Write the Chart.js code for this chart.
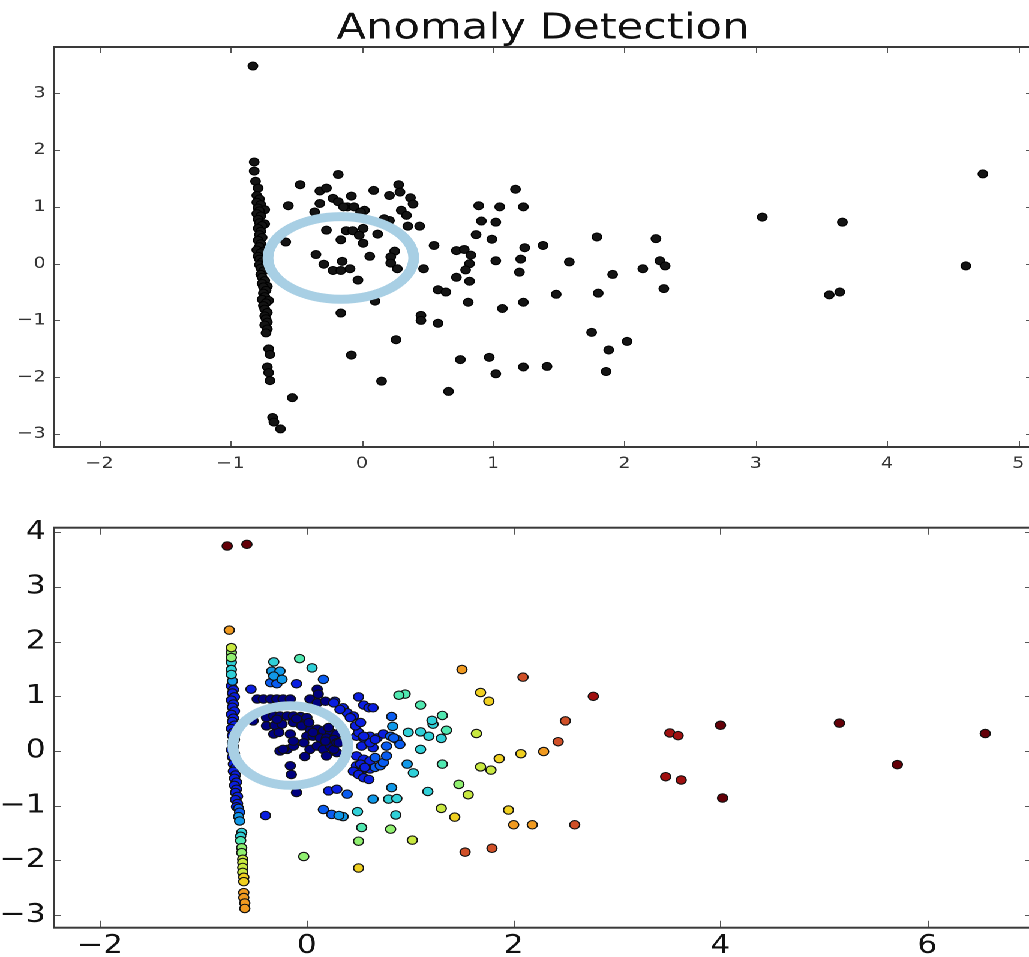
<!DOCTYPE html>
<html>
<head>
<meta charset="utf-8">
<script src="https://cdn.jsdelivr.net/npm/chart.js@4.4.1/dist/chart.umd.min.js"></script>
<style>
  html, body { margin: 0; padding: 0; background: #fff; overflow: hidden; width: 1029px; height: 957px; }
  #wrap { position: absolute; left: 0; top: 0; width: 864px; height: 957px; transform: scaleX(1.2); transform-origin: 0 0; }
  #c1 { position: absolute; left: 0; top: 0; }
  #c2 { position: absolute; left: 0; top: 490px; }
</style>
</head>
<body>
<div id="wrap">
  <canvas id="c1" width="864" height="490"></canvas>
  <canvas id="c2" width="864" height="467"></canvas>
</div>
<script>
// ---------------- DATA ----------------
const chartTitle = 'Anomaly Detection';

// top panel tick labels
const topXTicks = [-2, -1, 0, 1, 2, 3, 4, 5];
const topYTicks = [-3, -2, -1, 0, 1, 2, 3];
// bottom panel tick labels
const botXTicks = [-2, 0, 2, 4, 6];
const botYTicks = [-3, -2, -1, 0, 1, 2, 3, 4];

// highlighted region (same in both panels, data units)
const ellipseCenter = [-0.16, 0.10];
const ellipseRadii = [0.555, 0.727];

// top panel: vertical strip of points
const topStrip = [
  [-0.83,3.48],[-0.82,1.79],[-0.82,1.63],[-0.81,1.45],[-0.79,1.33],[-0.80,1.20],[-0.78,1.14],[-0.80,1.08],
  [-0.77,1.04],[-0.79,0.98],[-0.74,0.95],[-0.78,0.93],[-0.80,0.88],[-0.77,0.84],[-0.79,0.78],[-0.78,0.72],
  [-0.74,0.70],[-0.76,0.67],[-0.79,0.62],[-0.77,0.57],[-0.78,0.51],[-0.76,0.46],[-0.79,0.41],[-0.77,0.35],
  [-0.78,0.30],[-0.80,0.24],[-0.75,0.22],[-0.77,0.19],[-0.79,0.13],[-0.78,0.08],[-0.76,0.03],[-0.78,-0.02],
  [-0.73,-0.02],[-0.77,-0.08],[-0.75,-0.13],[-0.77,-0.19],[-0.76,-0.24],[-0.74,-0.30],[-0.76,-0.35],
  [-0.72,-0.40],[-0.75,-0.41],[-0.73,-0.47],[-0.75,-0.52],[-0.74,-0.58],[-0.76,-0.63],[-0.71,-0.65],
  [-0.73,-0.69],[-0.75,-0.74],[-0.74,-0.80],[-0.72,-0.86],[-0.74,-0.92],[-0.73,-0.97],[-0.72,-1.03],
  [-0.74,-1.08],[-0.72,-1.15],[-0.73,-1.22],[-0.71,-1.50],[-0.70,-1.60],[-0.72,-1.82],[-0.71,-1.92],
  [-0.70,-2.06],[-0.68,-2.71],[-0.67,-2.79],[-0.62,-2.91]
];
// top panel: scattered points
const topScatter = [
  [-0.18,1.57],[-0.47,1.39],[-0.32,1.28],[-0.27,1.33],[-0.56,1.02],[-0.32,1.06],[-0.22,1.15],[-0.18,1.09],
  [-0.08,1.19],[0.09,1.29],[0.21,1.20],[0.28,1.39],[0.29,1.26],[0.37,1.16],[0.39,1.05],[-0.11,1.00],
  [-0.06,1.00],[0.02,0.94],[-0.14,1.00],[-0.01,0.91],[-0.36,0.91],[0.30,0.94],[0.34,0.85],[0.21,0.76],
  [0.17,0.79],[0.35,0.66],[0.44,0.66],[-0.27,0.59],[-0.12,0.58],[-0.07,0.58],[0.01,0.62],[-0.16,0.42],
  [-0.02,0.50],[0.12,0.52],[0.01,0.36],[-0.58,0.38],[-0.35,0.16],[0.06,0.13],[0.25,0.22],[0.22,0.12],
  [-0.29,-0.01],[-0.15,0.04],[-0.22,-0.12],[-0.16,-0.12],[-0.09,-0.09],[0.22,0.01],[0.27,-0.09],
  [-0.03,-0.29],[0.47,-0.09],[0.55,0.32],[0.10,-0.66],[-0.16,-0.87],[0.45,-0.91],[0.45,-1.00],
  [0.26,-1.34],[-0.08,-1.61],[0.15,-2.07],[-0.53,-2.36],[0.58,-1.05],[0.58,-0.46],[0.64,-0.50],
  [1.17,1.31],[0.89,1.02],[1.05,1.00],[1.23,1.00],[0.91,0.75],[1.02,0.73],[0.87,0.51],[0.99,0.43],
  [0.72,0.23],[0.78,0.25],[0.83,0.15],[0.82,0.00],[0.79,-0.11],[0.72,-0.24],[0.82,-0.31],[1.24,0.28],
  [1.38,0.32],[1.02,0.05],[1.21,0.08],[1.20,-0.15],[1.58,0.03],[1.79,0.47],[1.91,-0.19],[2.14,-0.09],
  [2.24,0.44],[0.81,-0.68],[1.07,-0.79],[1.23,-0.68],[1.48,-0.54],[1.80,-0.52],[1.75,-1.21],[2.02,-1.37],
  [1.88,-1.52],[1.86,-1.90],[0.75,-1.69],[0.97,-1.65],[1.02,-1.94],[1.23,-1.82],[1.41,-1.81],[0.66,-2.25],
  [3.05,0.82],[3.66,0.73],[2.27,0.05],[2.31,-0.04],[2.30,-0.44],[4.60,-0.04],[3.56,-0.55],[3.64,-0.50],
  [4.73,1.58]
];

// bottom panel: points grouped by colour band (low score -> high score)
const bandNavy = [
  [-0.39,0.61],[-0.32,0.64],[-0.26,0.64],[-0.19,0.64],[-0.13,0.64],[-0.06,0.63],[0.00,0.61],[-0.39,0.46],
  [-0.31,0.47],[-0.24,0.49],[-0.13,0.52],[-0.03,0.49],[0.03,0.40],[0.10,0.40],[0.16,0.37],[0.23,0.34],
  [0.29,0.31],[-0.32,0.31],[-0.16,0.31],[0.00,0.27],[0.06,0.27],[0.13,0.24],[0.19,0.24],[0.26,0.21],
  [-0.26,0.00],[-0.19,0.03],[-0.13,0.09],[-0.03,0.15],[0.03,0.03],[0.10,0.09],[0.16,0.03],[0.23,0.09],
  [0.29,-0.03],[0.19,-0.09],[-0.02,-0.10],[-0.16,-0.27],[-0.15,-0.43],[-0.10,-0.76],[-0.52,0.55],
  [-0.48,0.95],[-0.42,0.95],[-0.35,0.95],[-0.29,0.95],[-0.23,0.95],[-0.16,0.95],[0.03,0.95],[0.10,0.88],
  [0.18,0.91],[0.10,1.13],[0.11,1.04],[-0.27,0.34],[-0.13,0.18],[-0.23,0.03],[0.18,0.18],[0.26,0.03],
  [0.29,0.15],[0.06,0.34],[-0.05,0.46],[0.02,0.52],[-0.29,0.58],[-0.10,0.59],[0.21,0.43],[0.31,0.15]
];
const bandBlue = [
  [-0.54,1.13],[-0.10,1.23],[0.27,0.91],[0.35,0.79],[0.39,0.70],[0.45,0.64],[0.50,0.99],[0.55,0.84],
  [0.60,0.79],[0.64,0.79],[0.48,0.27],[0.55,0.24],[0.61,0.27],[0.68,0.24],[0.74,0.31],[0.53,0.09],
  [0.64,0.06],[0.48,-0.09],[0.55,-0.15],[0.61,-0.18],[0.48,-0.27],[0.55,-0.33],[0.61,-0.33],[0.52,-0.24],
  [0.56,-0.30],[0.45,-0.37],[0.50,-0.43],[0.55,-0.49],[0.60,-0.52],[0.50,0.34],[0.55,0.27],[0.61,0.15],
  [0.66,0.21],[0.42,0.61],[0.47,0.46],[0.52,0.52],[0.26,0.88],[0.32,0.76],[0.21,-0.73],[0.29,-0.70],
  [-0.40,-1.18],
  [-0.73,1.19],[-0.71,1.12],[-0.72,1.06],[-0.70,0.99],[-0.73,0.93],[-0.71,0.86],[-0.72,0.80],[-0.70,0.73],
  [-0.73,0.67],[-0.71,0.60],[-0.72,0.54],[-0.70,0.47],[-0.73,0.41],[-0.71,0.34],[-0.72,0.28],[-0.70,0.21],
  [-0.72,0.15],[-0.71,0.08],[-0.73,0.02],[-0.70,-0.05],[-0.72,-0.11],[-0.70,-0.18],[-0.71,-0.24],
  [-0.69,-0.31],[-0.71,-0.37],[-0.69,-0.44],[-0.70,-0.50],[-0.68,-0.57],[-0.70,-0.63],[-0.68,-0.70],
  [-0.69,-0.76],[-0.67,-0.83],[-0.69,-0.89],[-0.67,-0.96],[-0.68,-1.02]
];
const bandMidBlue = [
  [-0.35,1.25],[-0.29,1.23],[0.16,1.31],[0.66,-0.30],[0.71,-0.27],[0.74,-0.21],[0.66,-0.12],[0.77,-0.09],
  [0.77,0.09],[0.81,0.27],[0.87,0.21],[0.90,0.12],[0.84,0.24],[0.39,-0.79],[0.16,-1.07],[0.24,-1.16],
  [0.82,0.63],[-0.66,-1.05],[-0.65,-1.12]
];
const bandAzure = [
  [-0.34,1.46],[-0.26,1.46],[-0.32,1.37],[-0.24,1.31],[0.35,-1.20],[0.31,-1.18],[0.82,-0.67],[0.83,0.45],
  [0.97,-0.24],[0.64,-0.88],[-0.72,1.28],[-0.66,-1.20],[-0.65,-1.28]
];
const bandCyan = [
  [-0.32,1.63],[0.05,1.52],[0.79,-0.88],[0.87,-0.87],[1.03,-0.40],[1.10,0.03],[1.10,0.35],[1.18,0.27],
  [1.30,0.23],[1.22,0.49],[1.21,0.56],[0.98,0.34],[0.49,-1.11],[1.17,-0.74],[0.86,-1.17],
  [-0.73,1.62],[-0.73,1.49],[-0.73,1.40],[-0.63,-1.49],[-0.64,-1.56]
];
const bandTeal = [
  [-0.07,1.69],[1.10,0.84],[1.31,0.65],[1.35,0.38],[1.31,-0.24],[0.53,-1.40],[0.95,1.04],[0.89,1.02],
  [-0.64,-1.64]
];
const bandGreen = [
  [0.81,-1.43],[0.50,-1.65],[-0.03,-1.93],[1.47,-0.61],[-0.73,1.80],[-0.73,1.71],[-0.63,-1.77],[-0.63,-1.86]
];
const bandLime = [
  [1.02,-1.63],[1.56,-0.80],[1.30,-1.05],[1.64,0.32],[1.68,-0.29],[1.78,-0.35],[-0.73,1.89],
  [-0.62,-1.98],[-0.62,-2.04],[-0.62,-2.13],[-0.62,-2.22]
];
const bandYellow = [
  [0.50,-2.14],[1.43,-1.21],[1.95,-1.08],[1.68,1.07],[1.76,0.91],[1.86,-0.14],[2.07,-0.05],
  [-0.61,-2.31],[-0.61,-2.39]
];
const bandOrange = [
  [1.50,1.49],[2.29,-0.01],[2.00,-1.35],[2.18,-1.35],[-0.75,2.21],
  [-0.61,-2.59],[-0.61,-2.68],[-0.60,-2.78],[-0.60,-2.88]
];
const bandRedOrange = [
  [2.43,0.17],[1.53,-1.85],[2.59,-1.35],[2.50,0.55],[1.79,-1.78],[2.09,1.35]
];
const bandRed = [
  [2.77,1.00],[3.51,0.33],[3.59,0.28],[3.47,-0.47],[3.62,-0.53]
];
const bandDarkRed = [
  [-0.77,3.75],[-0.58,3.78],[4.00,0.47],[4.02,-0.86],[5.15,0.51],[5.71,-0.25],[6.56,0.32]
];

// ---------------- STYLE ----------------
const FONT = 'DejaVu Sans';
const SX = 1.2; // horizontal stretch of the picture
const bands = [
  { pts: bandNavy,      color: '#00007e' },
  { pts: bandBlue,      color: '#0a1ee0' },
  { pts: bandMidBlue,   color: '#0a5cf0' },
  { pts: bandAzure,     color: '#1098e8' },
  { pts: bandCyan,      color: '#30d0d8' },
  { pts: bandTeal,      color: '#50e8b0' },
  { pts: bandGreen,     color: '#90f070' },
  { pts: bandLime,      color: '#c8e840' },
  { pts: bandYellow,    color: '#f0d020' },
  { pts: bandOrange,    color: '#f09a20' },
  { pts: bandRedOrange, color: '#d05028' },
  { pts: bandRed,       color: '#a01010' },
  { pts: bandDarkRed,   color: '#640008' }
];

const fmt = v => (v < 0 ? '\u2212' + Math.abs(v) : String(v));
const toXY = arr => arr.map(p => ({ x: p[0], y: p[1] }));

const framePlugin = {
  id: 'frame',
  afterDatasetsDraw(chart, args, opts) {
    const { ctx, chartArea: a, scales: { x, y } } = chart;
    ctx.save();
    // highlighted ellipse
    const cx = x.getPixelForValue(ellipseCenter[0]);
    const cy = y.getPixelForValue(ellipseCenter[1]);
    const rx = Math.abs(x.getPixelForValue(ellipseCenter[0] + ellipseRadii[0]) - cx);
    const ry = Math.abs(y.getPixelForValue(ellipseCenter[1] + ellipseRadii[1]) - cy);
    ctx.beginPath();
    ctx.ellipse(cx, cy, rx, ry, 0, 0, Math.PI * 2);
    ctx.lineWidth = 9;
    ctx.strokeStyle = '#a8cfe4';
    ctx.stroke();
    // inward ticks on all four sides
    ctx.strokeStyle = opts.tickColor;
    ctx.lineWidth = 1;
    const L = opts.tickLen;
    ctx.beginPath();
    x.ticks.forEach(t => {
      const p = Math.round(x.getPixelForValue(t.value)) + 0.5;
      ctx.moveTo(p, a.bottom); ctx.lineTo(p, a.bottom - L);
      ctx.moveTo(p, a.top); ctx.lineTo(p, a.top + L);
    });
    y.ticks.forEach(t => {
      const p = Math.round(y.getPixelForValue(t.value)) + 0.5;
      ctx.moveTo(a.left, p); ctx.lineTo(a.left + L / SX, p);
      ctx.moveTo(a.right, p); ctx.lineTo(a.right - L / SX, p);
    });
    ctx.stroke();
    // frame
    ctx.strokeStyle = opts.frameColor;
    ctx.lineWidth = 2;
    ctx.strokeRect(a.left, a.top, a.right - a.left, a.bottom - a.top);
    ctx.restore();
  }
};

function axis(min, max, ticks, size, color, pad, fitKey, fitVal) {
  return {
    type: 'linear', min, max,
    afterBuildTicks: s => { s.ticks = ticks.map(v => ({ value: v })); },
    afterFit: s => { s[fitKey] = fitVal; },
    grid: { display: false, drawTicks: false },
    border: { display: false },
    ticks: {
      font: { family: FONT, size }, color, padding: pad,
      autoSkip: false, maxRotation: 0, minRotation: 0,
      callback: v => fmt(v)
    }
  };
}

const common = {
  responsive: false,
  animation: false,
  devicePixelRatio: 2,
  events: []
};

// ---------------- TOP CHART ----------------
new Chart(document.getElementById('c1'), {
  type: 'scatter',
  data: {
    datasets: [
      { data: toXY(topScatter), pointRadius: 4, pointBackgroundColor: '#141414', pointBorderColor: '#000', pointBorderWidth: 1 },
      { data: toXY(topStrip), pointRadius: 4, pointBackgroundColor: '#141414', pointBorderColor: '#000', pointBorderWidth: 1 }
    ]
  },
  options: Object.assign({}, common, {
    layout: { autoPadding: false, padding: { left: 0, right: 4, top: 0, bottom: 0 } },
    scales: {
      x: axis(-2.345, 5.104, topXTicks, 16, '#333', 7, 'height', 43),
      y: axis(-3.229, 3.815, topYTicks, 16, '#333', 7, 'width', 45)
    },
    plugins: {
      legend: { display: false },
      tooltip: { enabled: false },
      title: {
        display: true, text: chartTitle, fullSize: false,
        color: '#111', font: { family: FONT, size: 36, weight: 'normal', lineHeight: 1.0 },
        padding: { top: 11, bottom: 0 }
      },
      frame: { tickColor: '#555', tickLen: 6, frameColor: '#3a3a3a' }
    }
  }),
  plugins: [framePlugin]
});

// ---------------- BOTTOM CHART ----------------
new Chart(document.getElementById('c2'), {
  type: 'scatter',
  data: {
    datasets: bands.slice().reverse().map(b => ({
      data: toXY(b.pts), pointRadius: 4.2, pointBackgroundColor: b.color,
      pointBorderColor: '#111', pointBorderWidth: 1.1
    }))
  },
  options: Object.assign({}, common, {
    layout: { autoPadding: false, padding: { left: 0, right: 4, top: 37.7, bottom: 0 } },
    scales: {
      x: axis(-2.445, 7.012, botXTicks, 26, '#111', 3, 'height', 29.3),
      y: axis(-3.232, 4.084, botYTicks, 26, '#111', 7, 'width', 45)
    },
    plugins: {
      legend: { display: false },
      tooltip: { enabled: false },
      frame: { tickColor: '#555', tickLen: 7, frameColor: '#3a3a3a' }
    }
  }),
  plugins: [framePlugin]
});
</script>
</body>
</html>
